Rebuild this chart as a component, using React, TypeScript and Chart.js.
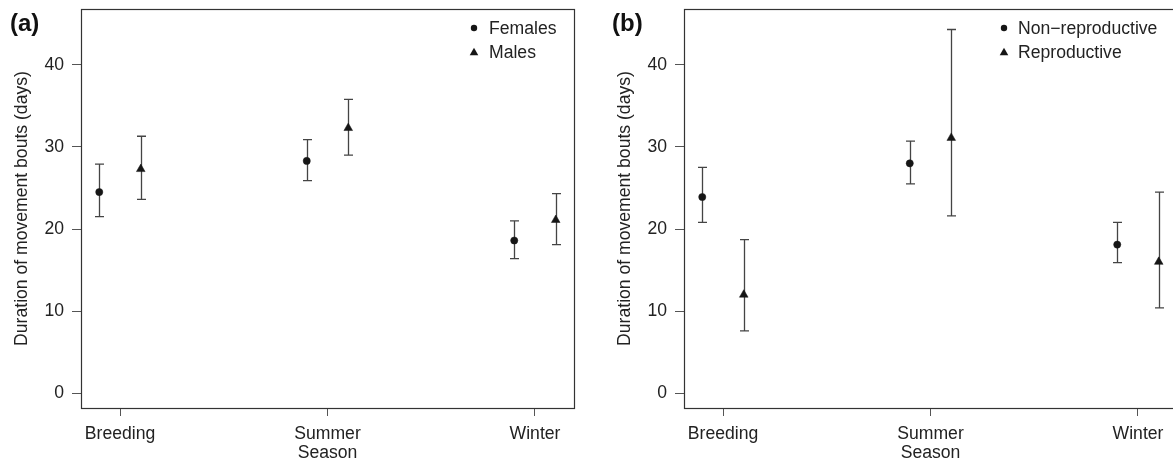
import { useEffect, useRef } from "react";
import { Chart, registerables } from "chart.js";

Chart.register(...registerables);

// ---------- data ----------
const seasons = ["Breeding", "Summer", "Winter"];
const yTickValues = [0, 10, 20, 30, 40];

// panel (a)
const femaleMean = [24.5, 28.3, 18.6];
const femaleLow = [21.5, 25.9, 16.4];
const femaleHigh = [27.9, 30.9, 21.0];
const maleMean = [27.3, 32.3, 21.1];
const maleLow = [23.6, 29.0, 18.1];
const maleHigh = [31.3, 35.8, 24.3];

// panel (b)
const nonReproMean = [23.9, 28.0, 18.1];
const nonReproLow = [20.8, 25.5, 15.9];
const nonReproHigh = [27.5, 30.7, 20.8];
const reproMean = [12.0, 31.1, 16.0];
const reproLow = [7.6, 21.6, 10.4];
const reproHigh = [18.7, 44.3, 24.5];

const FONT_FAMILY = "'Liberation Sans', Arial, Helvetica, sans-serif";
const TEXT_COLOR = "#222";
const MARK_COLOR = "#161616";
const FONT_SIZE = 17.6;

function series(label: string, mean: number[], low: number[], high: number[], offset: number, style: string) {
  return {
    label,
    data: mean.map((v, i) => ({ x: i + offset, y: v })),
    low,
    high,
    showLine: false,
    pointStyle: style,
    pointRadius: style === "triangle" ? 5 : 3.6,
    pointBackgroundColor: MARK_COLOR,
    pointBorderColor: MARK_COLOR,
    pointBorderWidth: 0.5,
  };
}

const errorBarPlugin = {
  id: "errorBars",
  beforeDatasetsDraw(chart: any) {
    const { ctx, scales } = chart;
    const xs = scales.x;
    const ys = scales.y;
    ctx.save();
    ctx.strokeStyle = "#444";
    ctx.lineWidth = 1.3;
    chart.data.datasets.forEach((ds: any) => {
      ds.data.forEach((p: any, i: number) => {
        const px = Math.round(xs.getPixelForValue(p.x)) + 0.5;
        const yl = ys.getPixelForValue(ds.low[i]);
        const yh = ys.getPixelForValue(ds.high[i]);
        ctx.beginPath();
        ctx.moveTo(px, yl);
        ctx.lineTo(px, yh);
        ctx.moveTo(px - 4.5, yl);
        ctx.lineTo(px + 4.5, yl);
        ctx.moveTo(px - 4.5, yh);
        ctx.lineTo(px + 4.5, yh);
        ctx.stroke();
      });
    });
    ctx.restore();
  },
};

const decorPlugin = {
  id: "decor",
  afterDraw(chart: any, _args: any, opts: any) {
    const { ctx, chartArea } = chart;
    ctx.save();
    // box
    ctx.strokeStyle = "#333";
    ctx.lineWidth = 1.2;
    ctx.strokeRect(
      Math.round(chartArea.left) + 0.5,
      Math.round(chartArea.top) + 0.5,
      Math.round(chartArea.right - chartArea.left),
      Math.round(chartArea.bottom - chartArea.top)
    );
    // panel label
    ctx.fillStyle = "#111";
    ctx.font = `bold 24px ${FONT_FAMILY}`;
    ctx.textAlign = "left";
    ctx.textBaseline = "alphabetic";
    ctx.fillText(opts.panel, opts.panelX, 31);
    // legend
    ctx.font = `${FONT_SIZE}px ${FONT_FAMILY}`;
    ctx.textBaseline = "middle";
    (opts.items || []).forEach((it: any, i: number) => {
      const mx = chartArea.left + opts.legendX;
      const my = chartArea.top + 19 + i * 24;
      ctx.fillStyle = MARK_COLOR;
      ctx.beginPath();
      if (it.style === "triangle") {
        ctx.moveTo(mx, my - 4.2);
        ctx.lineTo(mx + 4.3, my + 3.2);
        ctx.lineTo(mx - 4.3, my + 3.2);
        ctx.closePath();
      } else {
        ctx.arc(mx, my, 3.2, 0, Math.PI * 2);
      }
      ctx.fill();
      ctx.fillStyle = TEXT_COLOR;
      ctx.fillText(it.text, mx + opts.textGap, my + 1);
    });
    ctx.restore();
  },
};

function makeConfig(datasets: any[], panel: string, panelX: number, legendX: number, textGap: number, items: any[]) {
  const font = { family: FONT_FAMILY, size: FONT_SIZE, lineHeight: 1.2 };
  return {
    type: "scatter" as const,
    data: { datasets },
    options: {
      animation: false,
      responsive: false,
      layout: { padding: { top: 9, right: 16, left: 0, bottom: 0 } },
      plugins: {
        legend: { display: false },
        tooltip: { enabled: false },
        decor: { panel, panelX, legendX, textGap, items },
      },
      scales: {
        x: {
          type: "linear",
          min: -0.188,
          max: 2.188,
          afterBuildTicks: (s: any) => {
            s.ticks = seasons.map((_, i) => ({ value: i }));
          },
          afterFit: (s: any) => {
            s.height = 56;
            s.paddingLeft = 0;
            s.paddingRight = 0;
            s.paddingTop = 0;
            s.paddingBottom = 0;
          },
          ticks: {
            callback: (v: any) => seasons[v] ?? "",
            font,
            color: TEXT_COLOR,
            padding: 8,
            maxRotation: 0,
            autoSkip: false,
          },
          grid: { drawOnChartArea: false, drawTicks: true, tickLength: 8, color: "#555", lineWidth: 1 },
          border: { display: false },
          title: { display: true, text: "Season", font, color: TEXT_COLOR, padding: { top: 0, bottom: 0 } },
        },
        y: {
          type: "linear",
          min: -1.8,
          max: 46.8,
          afterBuildTicks: (s: any) => {
            s.ticks = yTickValues.map((v) => ({ value: v }));
          },
          afterFit: (s: any) => {
            s.width = 81;
            s.paddingLeft = 0;
            s.paddingRight = 0;
            s.paddingTop = 0;
            s.paddingBottom = 0;
          },
          ticks: { font, color: TEXT_COLOR, padding: 8 },
          grid: { drawOnChartArea: false, drawTicks: true, tickLength: 9, color: "#555", lineWidth: 1 },
          border: { display: false },
          title: {
            display: true,
            text: "Duration of movement bouts (days)",
            font,
            color: TEXT_COLOR,
            padding: { top: 12, bottom: 0 },
          },
        },
      },
    },
    plugins: [errorBarPlugin, decorPlugin],
  };
}

function Panel({ left, config }: { left: number; config: any }) {
  const ref = useRef<HTMLCanvasElement | null>(null);
  useEffect(() => {
    if (!ref.current) return;
    const chart = new Chart(ref.current, config);
    return () => chart.destroy();
  }, [config]);
  return (
    <div style={{ position: "absolute", left, top: 0, width: 590, height: 464 }}>
      <canvas ref={ref} width={590} height={464} style={{ width: 590, height: 464, display: "block" }} />
    </div>
  );
}

const configA = makeConfig(
  [
    series("Females", femaleMean, femaleLow, femaleHigh, -0.1, "circle"),
    series("Males", maleMean, maleLow, maleHigh, 0.1, "triangle"),
  ],
  "(a)",
  10,
  393,
  15,
  [
    { text: "Females", style: "circle" },
    { text: "Males", style: "triangle" },
  ]
);

const configB = makeConfig(
  [
    series("Non\u2212reproductive", nonReproMean, nonReproLow, nonReproHigh, -0.1, "circle"),
    series("Reproductive", reproMean, reproLow, reproHigh, 0.1, "triangle"),
  ],
  "(b)",
  9,
  320,
  14,
  [
    { text: "Non\u2212reproductive", style: "circle" },
    { text: "Reproductive", style: "triangle" },
  ]
);

export default function App() {
  return (
    <div
      style={{
        position: "fixed",
        left: 0,
        top: 0,
        width: 1173,
        height: 464,
        overflow: "hidden",
        background: "#fff",
      }}
    >
      <Panel left={0} config={configA} />
      <Panel left={603} config={configB} />
    </div>
  );
}
